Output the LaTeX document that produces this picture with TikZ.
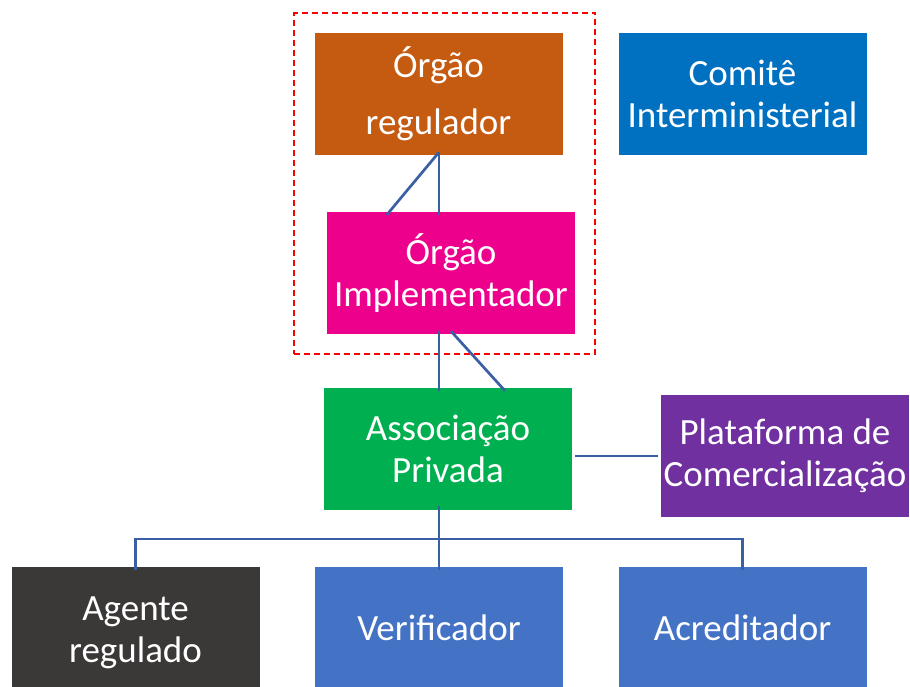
\documentclass[tikz,border=0pt]{standalone}
\usepackage{fontspec}
\setmainfont{Carlito}
\usetikzlibrary{fit, positioning}

\definecolor{regcol}{HTML}{C55A11}
\definecolor{comcol}{HTML}{0070C0}
\definecolor{impcol}{HTML}{EC008C}
\definecolor{asscol}{HTML}{00B050}
\definecolor{placol}{HTML}{7030A0}
\definecolor{agecol}{HTML}{3B3838}
\definecolor{vercol}{HTML}{4472C4}
\definecolor{lincol}{HTML}{3A5FA3}

\tikzset{
  box/.style={rectangle, fill=#1, text=white, align=center, inner sep=0pt,
    minimum width=248pt, minimum height=122pt,
    font=\fontsize{37}{42}\selectfont},
  link/.style={draw=lincol, line width=2.7pt}
}

\begin{document}
\begin{tikzpicture}[x=1pt, y=-1pt]
\useasboundingbox (0,0) rectangle (910,686);
\clip (0,0) rectangle (910,686);

%Nodes
\node (reg) at (438.5,94) [box=regcol] {Órgão\\[15pt]regulador};
\node (com) at (742.5,94) [box=comcol] {Comitê\\Interministerial};
\node (impl) at (451,273) [box=impcol] {Órgão\\Implementador};
\node (assoc) at (448,449) [box=asscol] {Associação\\Privada};
\node (plat) at (785,456) [box=placol] {Plataforma de\\Comercialização};

\node (agente) at (135.5,628) [box=agecol] {\raisebox{-5pt}[\height][\depth]{\begin{tabular}{@{}c@{}}Agente\\regulado\end{tabular}}};
\node (verif) at (439,628) [box=vercol] {Verificador};
\node (acred) at (742.5,628) [box=vercol] {Acreditador};

\node (grp) [draw=red, line width=1.8pt, dash pattern=on 6pt off 4pt,
  inner sep=20pt, fit=(reg) (impl)] {};

%Links
\draw[link] ([yshift=3pt]reg.south -| verif.north) -- ([yshift=-3pt]impl.north -| verif.north);
\draw[link] ([yshift=3pt]reg.south -| verif.north) -- ([xshift=60pt,yshift=-3pt]impl.north west);

\draw[link] ([yshift=3pt]impl.south -| verif.north) -- ([yshift=-3pt]assoc.north -| verif.north);
\draw[link] ([yshift=3pt]impl.south) -- ([xshift=57pt,yshift=-3pt]assoc.north);

\draw[link] ([xshift=3pt]assoc.east |- plat.west) -- ([xshift=-3pt]plat.west);

\coordinate (bus) at (439,539);
\draw[link] ([yshift=4pt]assoc.south -| verif.north) -- (bus);
\draw[link] ([yshift=-3pt]agente.north) -- (agente.north |- bus) -- (acred.north |- bus) -- ([yshift=-3pt]acred.north);
\draw[link] (bus) -- ([yshift=-3pt]verif.north);

\end{tikzpicture}
\end{document}
